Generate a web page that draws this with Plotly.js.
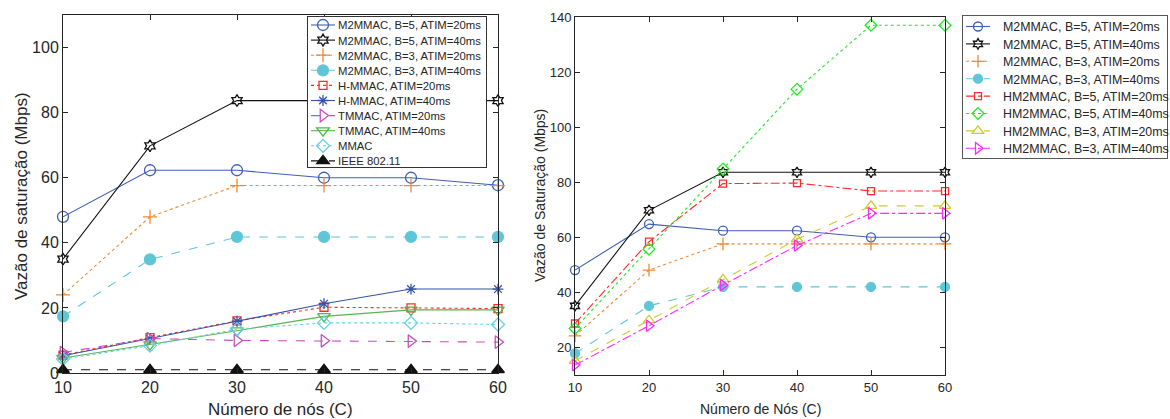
<!DOCTYPE html>
<html><head><meta charset="utf-8">
<script src="https://cdn.plot.ly/plotly-3.0.1.min.js"></script>
<style>html,body{margin:0;padding:0;background:#fff}#g{width:1170px;height:419px}</style>
</head><body><div id="g"></div>
<script>
// ---- Data ----
const nodes = [10, 20, 30, 40, 50, 60];

// Left chart
const m2mmac_b5_20 = [48, 62.3, 62.3, 60, 60, 57.7];
const m2mmac_b5_40 = [35, 69.8, 83.7, 83.7, 83.7, 83.7];
const m2mmac_b3_20 = [24, 48, 57.6, 57.6, 57.6, 57.6];
const m2mmac_b3_40 = [17.4, 34.9, 41.8, 41.8, 41.8, 41.8];
const hmmac_20 = [5.5, 10.9, 16, 20.2, 20, 19.8];
const hmmac_40 = [5.3, 10.5, 15.9, 21.3, 25.8, 25.8];
const tmmac_20 = [6.3, 10.6, 10, 9.9, 9.8, 9.5];
const tmmac_40 = [4.6, 8.7, 13, 17.4, 19.4, 19.4];
const mmac = [4.3, 8.4, 13.5, 15.4, 15.4, 14.9];
const ieee80211 = [1, 1, 1, 1, 1, 1];

// Right chart
const r_m2mmac_b5_20 = [48.1, 64.8, 62.4, 62.4, 60, 60];
const r_m2mmac_b5_40 = [35.1, 69.8, 83.6, 83.6, 83.6, 83.6];
const r_m2mmac_b3_20 = [24.2, 48.1, 57.6, 57.6, 57.6, 57.6];
const r_m2mmac_b3_40 = [17.8, 35.1, 42, 42, 42, 42];
const hm2mmac_b5_20 = [28.7, 58.4, 79.5, 79.7, 76.8, 76.8];
const hm2mmac_b5_40 = [26.9, 55.7, 84.8, 113.8, 137, 137];
const hm2mmac_b3_20 = [15.1, 29.9, 44.7, 59.3, 71.4, 71.4];
const hm2mmac_b3_40 = [13.6, 27.9, 42.7, 57, 68.7, 68.7];

const leftNames = ['M2MMAC, B=5, ATIM=20ms','M2MMAC, B=5, ATIM=40ms','M2MMAC, B=3, ATIM=20ms','M2MMAC, B=3, ATIM=40ms',
  'H-MMAC, ATIM=20ms','H-MMAC, ATIM=40ms','TMMAC, ATIM=20ms','TMMAC, ATIM=40ms','MMAC','IEEE 802.11'];
const rightNames = ['M2MMAC, B=5, ATIM=20ms','M2MMAC, B=5, ATIM=40ms','M2MMAC, B=3, ATIM=20ms','M2MMAC, B=3, ATIM=40ms',
  'HM2MMAC, B=5, ATIM=20ms','HM2MMAC, B=5, ATIM=40ms','HM2MMAC, B=3, ATIM=20ms','HM2MMAC, B=3, ATIM=40ms'];

const BLUE='#3f5fb3', BLACK='#111111', ORANGE='#ee8a34', CYAN='#5fc6d8', RED='#ff2b2b', BLUE2='#3553a8',
      PURPLE='#c450bd', GREEN='#55b44a', LCYAN='#66cfe6', GREEN2='#22e822', YELLOW='#cccc30', MAGENTA='#ff28ff';

function tr(y, name, color, dash, sym, size, xa, ya, leg){
  return {x: nodes, y: y, name: name, type:'scatter', mode:'lines+markers', xaxis:xa, yaxis:ya, legend:leg,
    cliponaxis:false,
    line:{color:color, width:1.1, dash:dash},
    marker:{symbol:sym, size:size, color: color, line:{color:color, width:1.3}}};
}

const data = [
  tr(m2mmac_b5_20, leftNames[0], BLUE, 'solid', 'circle-open', 11, 'x','y','legend'),
  tr(m2mmac_b5_40, leftNames[1], BLACK, 'solid', 'hexagram-open', 9, 'x','y','legend'),
  tr(m2mmac_b3_20, leftNames[2], ORANGE, 'dot', 'cross-thin-open', 10, 'x','y','legend'),
  tr(m2mmac_b3_40, leftNames[3], CYAN, 'dash', 'circle', 11, 'x','y','legend'),
  tr(hmmac_20, leftNames[4], RED, 'dot', 'square-open', 8, 'x','y','legend'),
  tr(hmmac_40, leftNames[5], BLUE2, 'solid', 'asterisk-open', 9, 'x','y','legend'),
  tr(tmmac_20, leftNames[6], PURPLE, 'dash', 'triangle-right-open', 11, 'x','y','legend'),
  tr(tmmac_40, leftNames[7], GREEN, 'solid', 'triangle-down-open', 11, 'x','y','legend'),
  tr(mmac, leftNames[8], LCYAN, 'dot', 'diamond-open', 10, 'x','y','legend'),
  tr(ieee80211, leftNames[9], BLACK, 'dash', 'triangle-up', 11, 'x','y','legend'),

  tr(r_m2mmac_b5_20, rightNames[0], BLUE, 'solid', 'circle-open', 9, 'x2','y2','legend2'),
  tr(r_m2mmac_b5_40, rightNames[1], BLACK, 'solid', 'hexagram-open', 8, 'x2','y2','legend2'),
  tr(r_m2mmac_b3_20, rightNames[2], ORANGE, 'dot', 'cross-thin-open', 9, 'x2','y2','legend2'),
  tr(r_m2mmac_b3_40, rightNames[3], CYAN, 'dash', 'circle', 9, 'x2','y2','legend2'),
  tr(hm2mmac_b5_20, rightNames[4], RED, 'dashdot', 'square-open', 7, 'x2','y2','legend2'),
  tr(hm2mmac_b5_40, rightNames[5], GREEN2, 'dot', 'diamond-open', 9, 'x2','y2','legend2'),
  tr(hm2mmac_b3_20, rightNames[6], YELLOW, 'dash', 'triangle-up-open', 10, 'x2','y2','legend2'),
  tr(hm2mmac_b3_40, rightNames[7], MAGENTA, 'dashdot', 'triangle-right-open', 10, 'x2','y2','legend2'),
];

const TXT='#262626', FONT='Liberation Sans, Arial, sans-serif';
function ax(extra){
  return Object.assign({showline:true, linecolor:'#262626', linewidth:1, mirror:'ticks', ticks:'inside', ticklen:5,
    tickcolor:'#262626', showgrid:false, zeroline:false, automargin:false, tickfont:{color:TXT}}, extra);
}
function ann(text, x, y, size, angle){
  return {text:text, xref:'paper', yref:'paper', x:x/1170, y:1-y/419, xanchor:'center', yanchor:'middle',
    showarrow:false, textangle:angle||0, font:{size:size, color:TXT, family:FONT}};
}

const layout = {
  width:1170, height:419, margin:{l:0,r:0,t:0,b:0,autoexpand:false}, paper_bgcolor:'#fff', plot_bgcolor:'#fff',
  font:{family:FONT, color:TXT},
  xaxis: ax({domain:[63/1170, 498/1170], range:[10,60], tickvals:nodes, anchor:'y', tickfont:{size:16,color:TXT}}),
  yaxis: ax({domain:[1-373/419, 1-15/419], range:[0,110], tickvals:[0,20,40,60,80,100], anchor:'x', tickfont:{size:16,color:TXT}}),
  xaxis2: ax({domain:[575/1170, 945/1170], range:[10,60], tickvals:nodes, anchor:'y2', tickfont:{size:13,color:TXT}}),
  yaxis2: ax({domain:[1-375/419, 1-17/419], range:[10,140], tickvals:[20,40,60,80,100,120,140], anchor:'x2', tickfont:{size:13,color:TXT}}),
  annotations:[
    ann('Número de nós (C)', 280, 409, 17),
    ann('Vazão de saturação (Mbps)', 22, 196, 17, -90),
    ann('Número de Nós (C)', 760, 409, 14),
    ann('Vazão de Saturação (Mbps)', 540, 196, 14, -90)
  ],
  legend:{x:307/1170, y:1-16/419, xanchor:'left', yanchor:'top', bgcolor:'#fff', bordercolor:'#333', borderwidth:1,
    font:{size:11.3, color:TXT}, tracegroupgap:0, itemwidth:30},
  legend2:{x:0.5, y:1-15/419, xanchor:'left', yanchor:'top', bgcolor:'#fff', bordercolor:'#555', borderwidth:1,
    font:{size:12.4, color:TXT}, tracegroupgap:0, itemwidth:30},
  showlegend:true
};

// Re-layout a rendered legend box to match the MATLAB-style compact legend
function fitLegend(cls, box){
  const lg = document.querySelector('g.' + cls);
  if(!lg) return;
  lg.setAttribute('transform', 'translate(' + box.x + ',' + box.y + ')');
  lg.removeAttribute('clip-path');
  lg.querySelectorAll('[clip-path]').forEach(e => e.removeAttribute('clip-path'));
  const items = lg.querySelectorAll('g.traces');
  const parse = el => {
    const m = /translate\(\s*([-\d.]+)[ ,]+([-\d.]+)/.exec(el.getAttribute('transform') || '');
    return m ? [parseFloat(m[1]), parseFloat(m[2])] : [0,0];
  };
  items.forEach((it, i) => {
    const p = parse(it);
    it.setAttribute('transform', 'translate(' + p[0] + ',' + (box.first + i*box.step) + ')');
    it.querySelectorAll('path').forEach(pth => {
      const d = pth.getAttribute('d');
      if(d && /^M5,0h30/.test(d)) pth.setAttribute('d', 'M3,0h' + (box.textX - 6));
      const t = pth.getAttribute('transform');
      if(t && /^translate\(20[ ,]/.test(t)) pth.setAttribute('transform', t.replace(/^translate\(20/, 'translate(' + ((box.textX)/2) ));
    });
    const txt = it.querySelector('text.legendtext');
    if(txt){
      txt.setAttribute('x', box.textX);
      txt.querySelectorAll('tspan').forEach(ts => { if(ts.hasAttribute('x')) ts.setAttribute('x', box.textX); });
    }
  });
  const bg = lg.querySelector('rect.bg');
  if(bg){
    bg.setAttribute('x', 0.5); bg.setAttribute('y', 0.5);
    bg.setAttribute('width', box.w);
    bg.setAttribute('height', box.h);
  }
}

Plotly.newPlot('g', data, layout, {displayModeBar:false, staticPlot:true}).then(() => {
  fitLegend('legend',  {x:307, y:16, w:179, h:151, first:9,    step:15.1, textX:30});
  fitLegend('legend2', {x:962, y:15, w:205, h:143, first:11.5, step:17.4, textX:30});
});
</script></body></html>
